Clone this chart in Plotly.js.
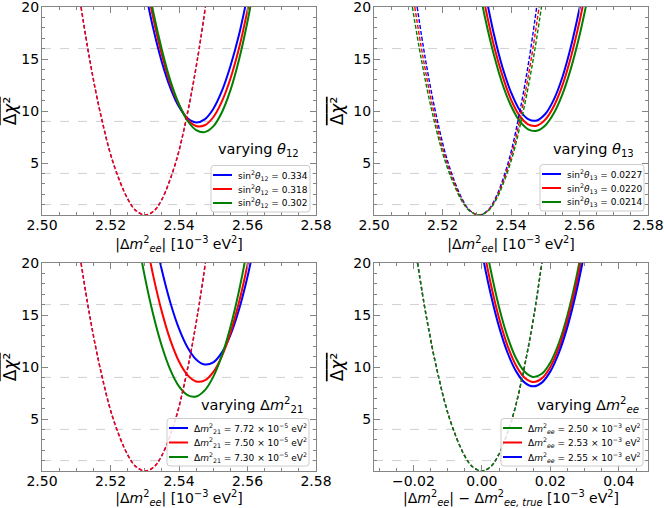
<!DOCTYPE html>
<html><head><meta charset="utf-8">
<script src="https://cdn.plot.ly/plotly-3.0.1.min.js"></script>
<style>html,body{margin:0;padding:0;background:#fff}</style>
</head><body><div id="chart" style="width:664px;height:508px"></div>
<script>
// ---------------- data ----------------
// reference levels (horizontal dashed guides)
const refLevels = [1, 4, 9, 16];

// shared y levels for the dashed ("true") curves
const dashY = [20, 15, 10, 5, 1.5, 0.4, 0, 0.4, 1.5, 5, 10, 15, 20];

// Panel 1: varying theta12
const tlLabels = ['0.334', '0.318', '0.302'];
const tlBlueX = [2.5300, 2.5325, 2.5350, 2.5375, 2.5400, 2.5425, 2.5450, 2.5475, 2.5500, 2.5525, 2.5550, 2.5575, 2.5600];
const tlBlueY = [21.8, 17.9, 14.7, 12.2, 10.4, 9.3, 8.9, 9.2, 10.2, 11.9, 14.3, 17.3, 21.1];
const tlRedX = [2.5300, 2.5325, 2.5350, 2.5375, 2.5400, 2.5425, 2.5450, 2.5475, 2.5500, 2.5525, 2.5550, 2.5575, 2.5600, 2.5625];
const tlRedY = [23.1, 18.9, 15.4, 12.6, 10.6, 9.2, 8.56, 8.63, 9.4, 10.9, 13.1, 16.0, 19.7, 24.0];
const tlGreenX = [2.5300, 2.5325, 2.5350, 2.5375, 2.5400, 2.5425, 2.5450, 2.5475, 2.5500, 2.5525, 2.5550, 2.5575, 2.5600, 2.5625];
const tlGreenY = [23.85, 19.5, 15.9, 12.9, 10.65, 9.06, 8.17, 7.97, 8.52, 9.86, 11.98, 14.9, 18.6, 23.1];
const tlDashX = [2.5114, 2.5139, 2.5169, 2.5208, 2.5251, 2.5275, 2.5302, 2.5327, 2.5350, 2.5390, 2.5426, 2.5454, 2.5477];

// Panel 2: varying theta13
const trLabels = ['0.0227', '0.0220', '0.0214'];
const trBlueX = [2.5325, 2.5350, 2.5375, 2.5400, 2.5425, 2.5450, 2.5475, 2.5500, 2.5525, 2.5550, 2.5575, 2.5600, 2.5625];
const trBlueY = [21.35, 17.4, 14.2, 11.8, 10.1, 9.23, 9.09, 9.71, 11.1, 13.25, 16.2, 19.85, 24.3];
const trRedX = [2.5300, 2.5325, 2.5350, 2.5375, 2.5400, 2.5425, 2.5450, 2.5475, 2.5500, 2.5525, 2.5550, 2.5575, 2.5600, 2.5625];
const trRedY = [24.4, 20.0, 16.3, 13.4, 11.1, 9.55, 8.71, 8.59, 9.17, 10.46, 12.46, 15.2, 18.6, 22.7];
const trGreenX = [2.5300, 2.5325, 2.5350, 2.5375, 2.5400, 2.5425, 2.5450, 2.5475, 2.5500, 2.5525, 2.5550, 2.5575, 2.5600, 2.5625];
const trGreenY = [22.9, 18.85, 15.4, 12.6, 10.5, 9.04, 8.24, 8.1, 8.61, 9.78, 11.6, 14.1, 17.25, 21.06];
const trDashBlueX = [2.5126, 2.5150, 2.5179, 2.52165, 2.5258, 2.5281, 2.5307, 2.5331, 2.5353, 2.53915, 2.5426, 2.5453, 2.5475];
const trDashRedX = [2.5119, 2.5144, 2.5174, 2.5213, 2.5256, 2.5280, 2.5307, 2.5332, 2.5355, 2.5395, 2.5431, 2.5459, 2.5482];
const trDashGreenX = [2.5112, 2.5138, 2.5169, 2.52095, 2.5254, 2.5279, 2.5307, 2.5333, 2.5357, 2.53985, 2.5436, 2.5465, 2.5489];

// Panel 3: varying dm21
const blLabels = ['7.72', '7.50', '7.30'];
const blBlueX = [2.5325, 2.5350, 2.5375, 2.5400, 2.5425, 2.5450, 2.5475, 2.5500, 2.5525, 2.5550, 2.5575, 2.5600, 2.5625];
const blBlueY = [23.1, 19.3, 16.16, 13.69, 11.88, 10.73, 10.24, 10.44, 11.38, 13.06, 15.5, 18.67, 22.6];
const blRedX = [2.5300, 2.5325, 2.5350, 2.5375, 2.5400, 2.5425, 2.5450, 2.5475, 2.5500, 2.5525, 2.5550, 2.5575, 2.5600, 2.5625];
const blRedY = [22.9, 18.74, 15.3, 12.56, 10.53, 9.22, 8.61, 8.71, 9.51, 11.03, 13.26, 16.19, 19.83, 24.2];
const blGreenX = [2.5275, 2.5300, 2.5325, 2.5350, 2.5375, 2.5400, 2.5425, 2.5450, 2.5475, 2.5500, 2.5525, 2.5550, 2.5575, 2.5600];
const blGreenY = [23.16, 18.71, 14.99, 11.99, 9.7, 8.13, 7.29, 7.16, 7.75, 9.05, 11.08, 13.83, 17.29, 21.47];
const blDashX = [2.5114, 2.5139, 2.5169, 2.5208, 2.5251, 2.5275, 2.5302, 2.5327, 2.5350, 2.5390, 2.5426, 2.5454, 2.5477];

// Panel 4: varying dmee (x relative to true value)
const brLabels = ['2.50', '2.53', '2.55'];
const brX = [0.0000, 0.0025, 0.0050, 0.0075, 0.0100, 0.0125, 0.0150, 0.0175, 0.0200, 0.0225, 0.0250, 0.0275, 0.0300];
const brGreenY = [23.9, 19.44, 15.78, 12.9, 10.82, 9.54, 9.05, 9.35, 10.44, 12.33, 15.01, 18.49, 22.76];
const brRedY = [22.31, 18.13, 14.71, 12.04, 10.13, 8.97, 8.56, 8.91, 10.01, 11.86, 14.47, 17.83, 21.95];
const brBlueX = [-0.0025, 0.0000, 0.0025, 0.0050, 0.0075, 0.0100, 0.0125, 0.0150, 0.0175, 0.0200, 0.0225, 0.0250, 0.0275, 0.0300];
const brBlueY = [25.7, 21.06, 17.11, 13.88, 11.37, 9.58, 8.5, 8.14, 8.5, 9.58, 11.37, 13.88, 17.11, 21.06];
const brDashX = [-0.0188, -0.0163, -0.0133, -0.0094, -0.0051, -0.0027, 0, 0.0025, 0.0048, 0.0088, 0.0124, 0.0152, 0.0175];

const xTicksMain = [2.50, 2.52, 2.54, 2.56, 2.58];
const xTicksRel = [-0.02, 0.00, 0.02, 0.04];
const yTicks = [5, 10, 15, 20];

// ---------------- styling ----------------
const FONT = 'DejaVu Sans';
const GREY = '#858585';
const BLUE = '#0000ff', RED = '#ff0000', GREEN = '#008000';
const W = 664, H = 508;

function solid(x, y, color, n) {
  return {x: x, y: y, type: 'scatter', mode: 'lines',
    line: {color: color, width: 2, shape: 'spline'},
    xaxis: 'x' + (n === 1 ? '' : n), yaxis: 'y' + (n === 1 ? '' : n),
    showlegend: false, hoverinfo: 'skip'};
}
function dashed(x, y, color, n, dash) {
  return {x: x, y: y, type: 'scatter', mode: 'lines',
    line: {color: color, width: 1.4, dash: dash || '4px,2px', shape: 'spline'},
    xaxis: 'x' + (n === 1 ? '' : n), yaxis: 'y' + (n === 1 ? '' : n),
    showlegend: false, hoverinfo: 'skip'};
}

const th12 = v => 'sin<sup>2</sup><i>θ</i><sub>12</sub> = ' + v;
const th13 = v => 'sin<sup>2</sup><i>θ</i><sub>13</sub> = ' + v;
const m21 = v => 'Δ<i>m</i><sup>2</sup><sub>21</sub> = ' + v + ' × 10<sup>−5</sup> eV<sup>2</sup>';
const mee = v => 'Δ<i>m</i><sup>2</sup><sub><i>ee</i></sub> = ' + v + ' × 10<sup>−3</sup> eV<sup>2</sup>';

const data = [
  solid(tlBlueX, tlBlueY, BLUE, 1),
  solid(tlRedX, tlRedY, RED, 1),
  solid(tlGreenX, tlGreenY, GREEN, 1),
  dashed(tlDashX, dashY, BLUE, 1, '3px,3px'),
  dashed(tlDashX, dashY, RED, 1, '4px,2px'),

  solid(trBlueX, trBlueY, BLUE, 2),
  solid(trRedX, trRedY, RED, 2),
  solid(trGreenX, trGreenY, GREEN, 2),
  dashed(trDashBlueX, dashY, BLUE, 2),
  dashed(trDashRedX, dashY, RED, 2),
  dashed(trDashGreenX, dashY, GREEN, 2),

  solid(blBlueX, blBlueY, BLUE, 3),
  solid(blRedX, blRedY, RED, 3),
  solid(blGreenX, blGreenY, GREEN, 3),
  dashed(blDashX, dashY, BLUE, 3, '3px,3px'),
  dashed(blDashX, dashY, RED, 3, '4px,2px'),

  solid(brX, brGreenY, GREEN, 4),
  solid(brX, brRedY, RED, 4),
  solid(brBlueX, brBlueY, BLUE, 4),
  dashed(brDashX, dashY, BLUE, 4, '3px,3px'),
  dashed(brDashX, dashY, RED, 4, '2px,4px'),
  dashed(brDashX, dashY, GREEN, 4, '4px,2px')
];

const xTitleMain = '|Δ<i>m</i><sup>2</sup><sub><i>ee</i></sub>| [10<sup>−3</sup> eV<sup>2</sup>]';
const xTitleRel = '|Δ<i>m</i><sup>2</sup><sub><i>ee</i></sub>| − Δ<i>m</i><sup>2</sup><sub><i>ee, true</i></sub> [10<sup>−3</sup> eV<sup>2</sup>]';
const yTitle = '<span style="text-decoration:overline">Δ<i>χ</i>²</span>';

const colDom = [[42 / W, 316 / W], [374 / W, 648 / W]];
const rowDom = [[1 - 215 / H, 1 - 7 / H], [1 - 471 / H, 1 - 263 / H]];

function xAxis(dom, anchor, rel) {
  return {
    domain: dom, anchor: anchor,
    range: rel ? [-0.0315, 0.0485] : [2.50, 2.58],
    tickvals: rel ? xTicksRel : xTicksMain, tickformat: '.2f',
    ticks: 'inside', ticklen: 6, tickwidth: 1, tickcolor: GREY,
    minor: {ticks: 'inside', ticklen: 3, dtick: 0.005, tick0: 0, tickcolor: GREY, showgrid: false},
    showline: true, linecolor: GREY, linewidth: 1, mirror: 'allticks',
    showgrid: false, zeroline: false, automargin: false, ticklabeloverflow: 'allow',
    ticklabelstandoff: -3,
    tickfont: {family: FONT, size: 14, color: '#000'},
    title: {text: rel ? xTitleRel : xTitleMain, font: {family: FONT, size: 14, color: '#000'}, standoff: 7}
  };
}
function yAxis(dom, anchor) {
  return {
    domain: dom, anchor: anchor, range: [0, 20],
    tickvals: yTicks,
    ticks: 'inside', ticklen: 6, tickwidth: 1, tickcolor: GREY,
    minor: {ticks: 'inside', ticklen: 3, dtick: 1, tick0: 0, tickcolor: GREY, showgrid: false},
    showline: true, linecolor: GREY, linewidth: 1, mirror: 'allticks',
    showgrid: false, zeroline: false, automargin: false, ticklabeloverflow: 'allow',
    ticklabelstandoff: -1,
    tickfont: {family: FONT, size: 14, color: '#000'},
    title: {text: yTitle, font: {family: FONT, size: 17, color: '#000'}, standoff: 5}
  };
}

// guide lines
const shapes = [];
const axIds = ['', '2', '3', '4'];
axIds.forEach(function (id) {
  refLevels.forEach(function (lv) {
    shapes.push({type: 'line', xref: 'x' + id + ' domain', yref: 'y' + id,
      x0: 0, x1: 1, y0: lv, y1: lv, layer: 'below',
      line: {color: '#d0d0d0', width: 1, dash: 'dash'}});
  });
});

const annFont = {family: FONT, size: 14.5, color: '#000'};
const annotations = [
  {text: 'varying <i>θ</i><sub>12</sub>', x: 258 / W, y: 1 - 150 / H},
  {text: 'varying <i>θ</i><sub>13</sub>', x: 593 / W, y: 1 - 150 / H},
  {text: 'varying Δ<i>m</i><sup>2</sup><sub>21</sub>', x: 252 / W, y: 1 - 405 / H},
  {text: 'varying Δ<i>m</i><sup>2</sup><sub><i>ee</i></sub>', x: 588 / W, y: 1 - 405 / H}
].map(a => Object.assign({xref: 'paper', yref: 'paper', showarrow: false,
  xanchor: 'center', yanchor: 'middle', font: annFont}, a));

// legends (box + swatch + label), positions in pixels
const legends = [
  {left: 211, right: 310, rows: [175, 189, 203], colors: [BLUE, RED, GREEN], labels: tlLabels.map(th12)},
  {left: 540, right: 644, rows: [174, 188, 202], colors: [BLUE, RED, GREEN], labels: trLabels.map(th13)},
  {left: 167, right: 309, rows: [428, 442.5, 457], colors: [BLUE, RED, GREEN], labels: blLabels.map(m21)},
  {left: 501, right: 643, rows: [428, 442.5, 457], colors: [GREEN, RED, BLUE], labels: brLabels.map(mee)}
];
function px(x) { return x / W; }
function py(y) { return 1 - y / H; }
function roundRect(l, t, r, b, rad) {
  const X = v => px(v).toFixed(5), Y = v => py(v).toFixed(5);
  return 'M' + X(l + rad) + ',' + Y(t) + ' L' + X(r - rad) + ',' + Y(t) +
    ' Q' + X(r) + ',' + Y(t) + ' ' + X(r) + ',' + Y(t + rad) +
    ' L' + X(r) + ',' + Y(b - rad) + ' Q' + X(r) + ',' + Y(b) + ' ' + X(r - rad) + ',' + Y(b) +
    ' L' + X(l + rad) + ',' + Y(b) + ' Q' + X(l) + ',' + Y(b) + ' ' + X(l) + ',' + Y(b - rad) +
    ' L' + X(l) + ',' + Y(t + rad) + ' Q' + X(l) + ',' + Y(t) + ' ' + X(l + rad) + ',' + Y(t) + ' Z';
}
legends.forEach(function (lg) {
  const top = lg.rows[0] - 9.5, bot = lg.rows[2] + 9;
  shapes.push({type: 'path', xref: 'paper', yref: 'paper', layer: 'above',
    path: roundRect(lg.left, top, lg.right, bot, 3),
    fillcolor: 'rgba(255,255,255,0.85)', line: {color: '#cccccc', width: 1}});
  lg.rows.forEach(function (ry, i) {
    shapes.push({type: 'line', xref: 'paper', yref: 'paper', layer: 'above',
      x0: px(lg.left + 2), x1: px(lg.left + 21), y0: py(ry), y1: py(ry),
      line: {color: lg.colors[i], width: 2}});
    annotations.push({xref: 'paper', yref: 'paper', showarrow: false,
      x: px(lg.left + 25), y: py(ry), xanchor: 'left', yanchor: 'middle',
      text: lg.labels[i], font: {family: FONT, size: 9, color: '#000'}});
  });
});

const layout = {
  width: W, height: H, margin: {l: 0, r: 0, t: 0, b: 0},
  paper_bgcolor: '#fff', plot_bgcolor: '#fff', showlegend: false,
  font: {family: FONT, color: '#000'},
  xaxis: xAxis(colDom[0], 'y', false), yaxis: yAxis(rowDom[0], 'x'),
  xaxis2: xAxis(colDom[1], 'y2', false), yaxis2: yAxis(rowDom[0], 'x2'),
  xaxis3: xAxis(colDom[0], 'y3', false), yaxis3: yAxis(rowDom[1], 'x3'),
  xaxis4: xAxis(colDom[1], 'y4', true), yaxis4: yAxis(rowDom[1], 'x4'),
  shapes: shapes, annotations: annotations
};

Plotly.newPlot('chart', data, layout, {staticPlot: true, displayModeBar: false});
</script></body></html>
